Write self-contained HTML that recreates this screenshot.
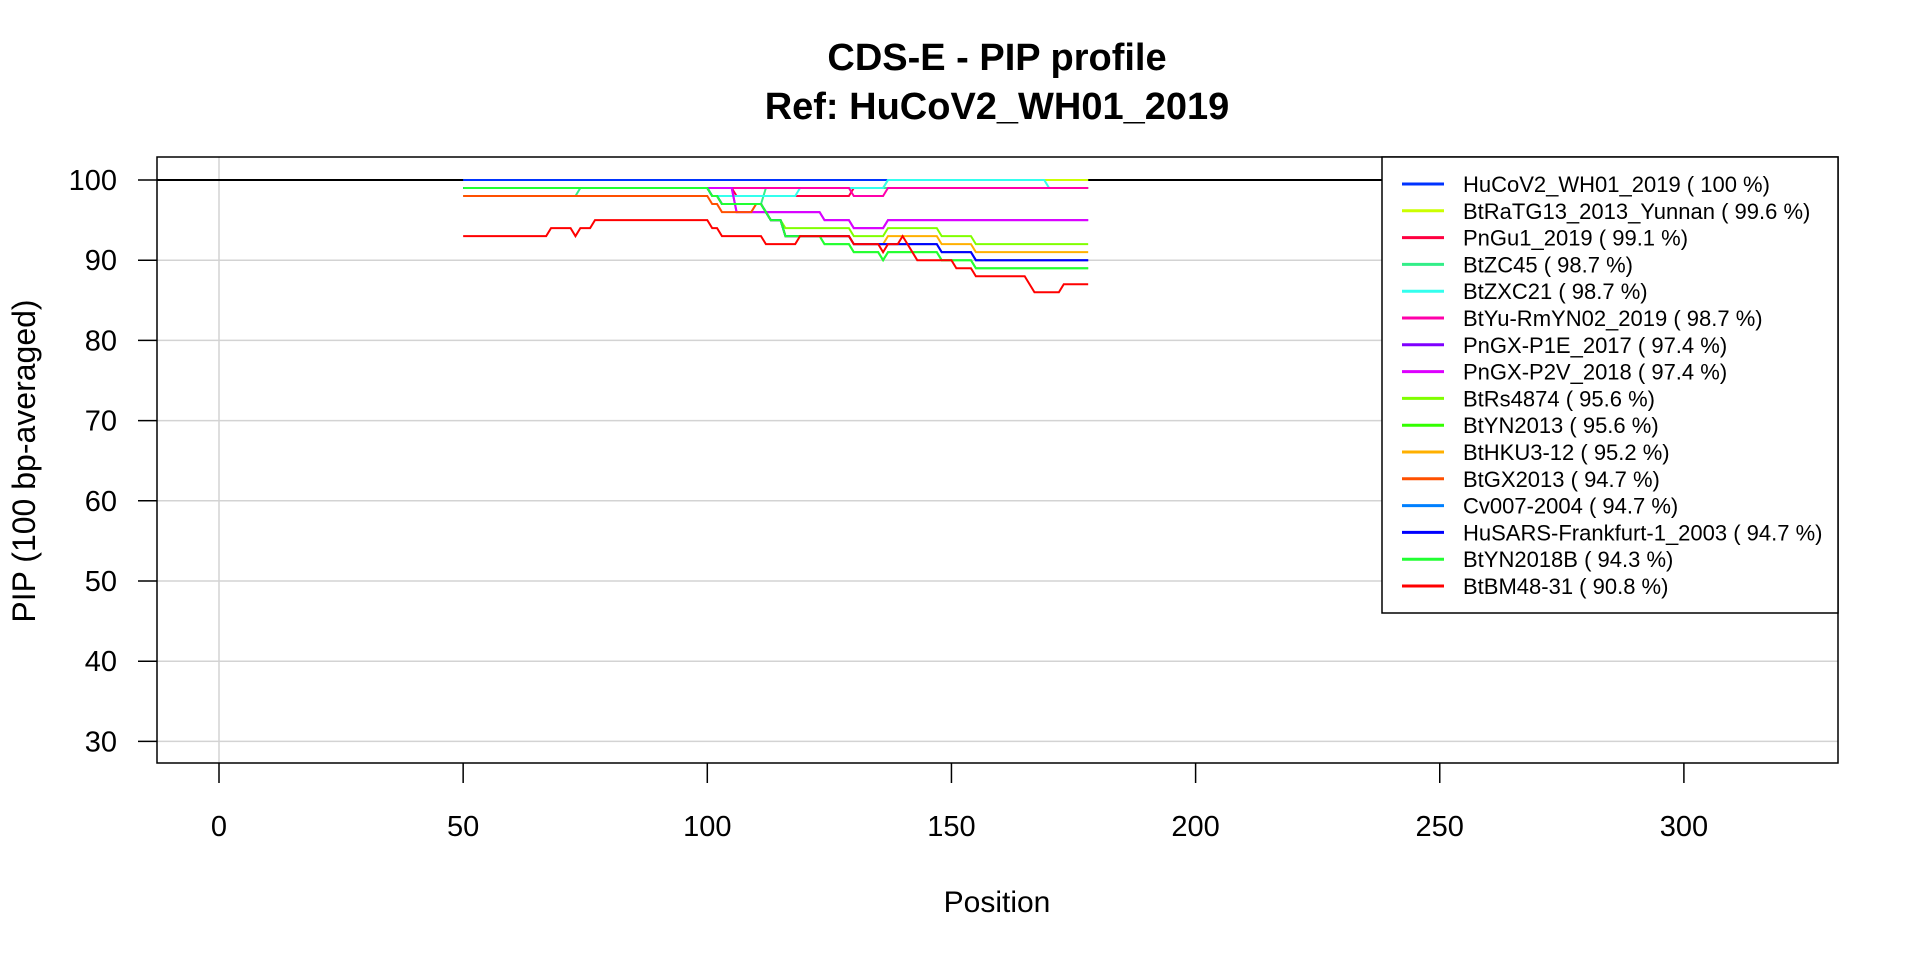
<!DOCTYPE html>
<html><head><meta charset="utf-8"><style>
body{margin:0;background:#fff;}
svg{display:block;font-family:"Liberation Sans",Arial,sans-serif;}
</style></head><body>
<svg id="chart" width="1920" height="960" viewBox="0 0 1920 960">
<text x="997" y="70" text-anchor="middle" font-size="38" font-weight="bold">CDS-E - PIP profile</text>
<text x="997" y="119" text-anchor="middle" font-size="38" font-weight="bold">Ref: HuCoV2_WH01_2019</text>
<text x="997" y="912" text-anchor="middle" font-size="30">Position</text>
<text x="0" y="0" transform="translate(35,461) rotate(-90)" text-anchor="middle" font-size="32">PIP (100 bp-averaged)</text>
<g id="grid"></g><g id="axes"></g><g id="series"></g><g id="legend"></g>
</svg>
<script>
const xTicks = [0,50,100,150,200,250,300];
const yTicks = [30,40,50,60,70,80,90,100];
const seriesNames = ["HuCoV2_WH01_2019","BtRaTG13_2013_Yunnan","PnGu1_2019","BtZC45","BtZXC21","BtYu-RmYN02_2019","PnGX-P1E_2017","PnGX-P2V_2018","BtRs4874","BtYN2013","BtHKU3-12","BtGX2013","Cv007-2004","HuSARS-Frankfurt-1_2003","BtYN2018B","BtBM48-31"];
const seriesPct = ["100","99.6","99.1","98.7","98.7","98.7","97.4","97.4","95.6","95.6","95.2","94.7","94.7","94.7","94.3","90.8"];
const seriesColors = ["#0033ff","#ccff00","#ff0040","#33ee88","#33ffee","#ff00aa","#7f00ff","#dd00ff","#80ff00","#33ff00","#ffb000","#ff5000","#0080ff","#0000ff","#22ff33","#ff0000"];
// change points: [position, PIP]
const sHuCoV2 = [[50,100]];
const sBtRaTG13 = [[50,99],[137,100]];
const sPnGu1 = [[50,99],[106,98],[130,99]];
const sBtZC45 = [[50,98],[74,99],[101,98],[103,97],[112,99]];
const sBtZXC21 = [[50,99],[101,98],[119,99],[137,100],[170,99]];
const sBtYu = [[50,99],[130,98],[137,99]];
const sPnGXP1E = [[50,99],[106,96],[124,95],[130,94],[137,95]];
const sPnGXP2V = [[50,99],[106,96],[124,95],[130,94],[137,95]];
const sBtRs4874 = [[50,99],[101,98],[103,97],[112,96],[113,95],[116,94],[130,93],[137,94],[148,93],[155,92]];
const sBtYN2013 = [[50,99],[101,98],[103,97],[112,96],[113,95],[116,93],[124,92],[130,91],[136,90],[137,91],[148,90],[155,89]];
const sBtHKU3 = [[50,99],[101,98],[103,97],[112,96],[113,95],[116,93],[130,92],[137,93],[148,92],[155,91]];
const sBtGX2013 = [[50,98],[101,97],[103,96],[110,97],[112,96],[113,95],[116,93],[130,92],[148,91],[155,90]];
const sCv007 = [[50,99],[101,98],[103,97],[112,96],[113,95],[116,93],[130,92],[148,91],[155,90]];
const sHuSARS = [[50,99],[101,98],[103,97],[112,96],[113,95],[116,93],[130,92],[148,91],[155,90]];
const sBtYN2018B = [[50,99],[101,98],[103,97],[112,96],[113,95],[116,93],[124,92],[130,91],[136,90],[137,91],[148,90],[155,89]];
const sBtBM48 = [[50,93],[68,94],[73,93],[74,94],[77,95],[101,94],[103,93],[112,92],[119,93],[130,92],[136,91],[137,92],[140,93],[141,92],[142,91],[143,90],[151,89],[155,88],[166,87],[167,86],[173,87]];
const allSeries = [sHuCoV2,sBtRaTG13,sPnGu1,sBtZC45,sBtZXC21,sBtYu,sPnGXP1E,sPnGXP2V,sBtRs4874,sBtYN2013,sBtHKU3,sBtGX2013,sCv007,sHuSARS,sBtYN2018B,sBtBM48];
const xEnd = 178;
const refLevel = 100;

const NS="http://www.w3.org/2000/svg";
const L=157,R=1838,T=157,B=763;
function xs(v){return 219+v*4.883;}
function ys(v){return 180+(100-v)*8.02;}
function mk(tag,attrs,parent){const e=document.createElementNS(NS,tag);for(const k in attrs)e.setAttribute(k,attrs[k]);parent.appendChild(e);return e;}
const grid=document.getElementById('grid'),axes=document.getElementById('axes'),ser=document.getElementById('series'),leg=document.getElementById('legend');
yTicks.forEach(t=>{
 const g=mk('line',{x1:L,x2:R,y1:ys(t),y2:ys(t),stroke:'#d3d3d3','stroke-width':1.5},grid);
 
 
 const tk=mk('line',{x1:L-19,x2:L,y1:ys(t),y2:ys(t),stroke:'#000','stroke-width':1.5},axes);
 
 
 const lb=mk('text',{x:117,y:ys(t)+10,'text-anchor':'end','font-size':29},axes);
 lb.textContent=t;
 
 
});
const vg=mk('line',{x1:xs(0),x2:xs(0),y1:T,y2:B,stroke:'#d3d3d3','stroke-width':1.5},grid);


xTicks.forEach(t=>{
 const tk=mk('line',{x1:xs(t),x2:xs(t),y1:B,y2:B+20,stroke:'#000','stroke-width':1.5},axes);
 
 
 const lb=mk('text',{x:xs(t),y:B+73,'text-anchor':'middle','font-size':29},axes);
 lb.textContent=t;
 
 
});
const ref=mk('line',{x1:L,x2:R,y1:ys(refLevel),y2:ys(refLevel),stroke:'#000','stroke-width':2},grid);


const box=mk('rect',{x:L,y:T,width:R-L,height:B-T,fill:'none',stroke:'#000','stroke-width':1.5},axes);


allSeries.forEach((s,i)=>{
 const pts=[];
 for(let j=0;j<s.length;j++){
  const x0=s[j][0],v=s[j][1];
  const x1=(j+1<s.length)?s[j+1][0]-1:xEnd;
  pts.push(xs(x0)+','+ys(v));
  if(x1>x0)pts.push(xs(x1)+','+ys(v));
 }
 const p=mk('polyline',{points:pts.join(' '),fill:'none',stroke:seriesColors[i],'stroke-width':2},ser);
 
 
});
const lbox=mk('rect',{x:1382,y:157,width:456,height:456,fill:'#fff',stroke:'#000','stroke-width':1.5},leg);


seriesNames.forEach((n,i)=>{
 const y=184+i*26.8;
 const ln=mk('line',{x1:1402,x2:1444,y1:y,y2:y,stroke:seriesColors[i],'stroke-width':3},leg);
 
 
 const tx=mk('text',{x:1463,y:y+8,'font-size':22},leg);
 tx.textContent=n+' ( '+seriesPct[i]+' %)';
 
 
});
</script>
</body></html>
